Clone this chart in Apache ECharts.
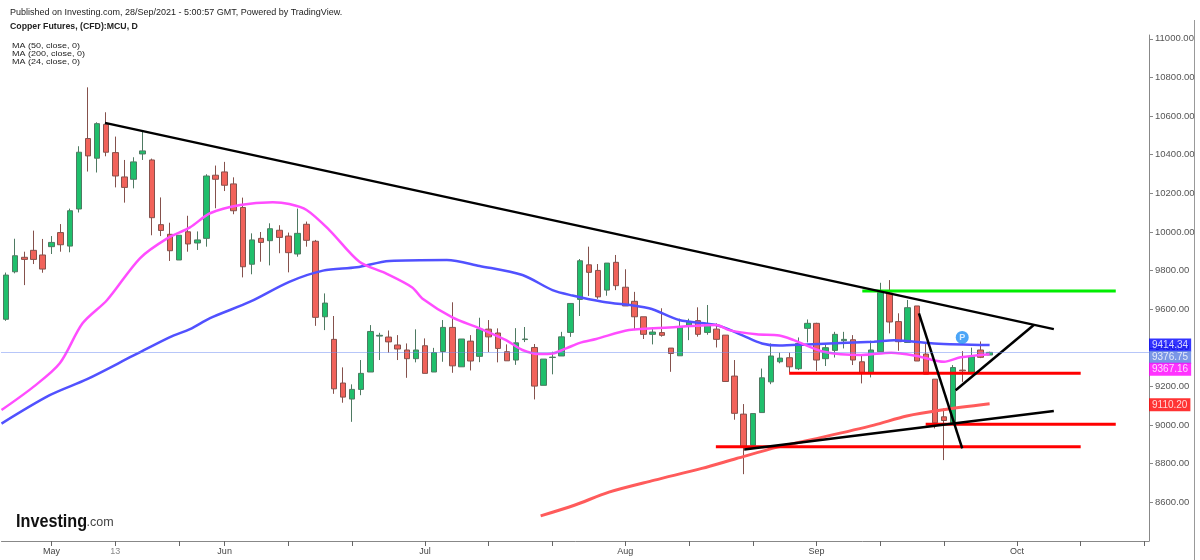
<!DOCTYPE html>
<html>
<head>
<meta charset="utf-8">
<script src="https://cdn.jsdelivr.net/npm/echarts@6/dist/echarts.min.js"></script>
<style>
  html, body { margin: 0; padding: 0; background: #fff; }
  #chart { width: 1200px; height: 560px; }
</style>
</head>
<body>
<div id="chart"></div>
<script>
// trading days (MM-DD), the last 17 are the empty space to the right
const dates = [
  '04-26','04-27','04-28','04-29','04-30',
  '05-04','05-05','05-06','05-07','05-10','05-11','05-12','05-13','05-14',
  '05-17','05-18','05-19','05-20','05-21','05-24','05-25','05-26','05-27','05-28',
  '06-01','06-02','06-03','06-04','06-07','06-08','06-09','06-10','06-11','06-14',
  '06-15','06-16','06-17','06-18','06-21','06-22','06-23','06-24','06-25','06-28','06-29','06-30',
  '07-01','07-02','07-05','07-06','07-07','07-08','07-09','07-12','07-13','07-14',
  '07-15','07-16','07-19','07-20','07-21','07-22','07-23','07-26','07-27','07-28','07-29','07-30',
  '08-02','08-03','08-04','08-05','08-06','08-09','08-10','08-11','08-12','08-13',
  '08-16','08-17','08-18','08-19','08-20','08-23','08-24','08-25','08-26','08-27','08-31',
  '09-01','09-02','09-03','09-06','09-07','09-08','09-09','09-10','09-13','09-14',
  '09-15','09-16','09-17','09-20','09-21','09-22','09-23','09-24','09-27','09-28',
  '09-29','09-30','10-01','10-04','10-05','10-06','10-07','10-08','10-11','10-12',
  '10-13','10-14','10-15','10-18','10-19','10-20','10-21'
];

// x axis labels and tick marks
const labelDates = ['05-04','05-13','06-01','07-01','08-02','09-01','10-01'];
const labelTexts = ['May','13','Jun','Jul','Aug','Sep','Oct'];
const tickDates = ['05-04','05-13','05-24','06-01','06-10','06-21','07-01','07-12','07-21',
  '08-02','08-11','08-20','09-01','09-10','09-21','10-01','10-12','10-21'];

// legend rows
const maLegend = ['MA (50, close, 0)', 'MA (200, close, 0)', 'MA (24, close, 0)'];

// daily candles
const open = [9548,9794,9869,9905,9881,9924,9997,9927,10119,10484,
  10382,10557,10411,10285,10273,10404,10373,10038,9988,9855,
  10001,9943,9967,10294,10311,10249,10127,9833,9967,9955,
  10009,9979,9886,10040,9952,9561,9444,9218,9135,9185,
  9275,9461,9456,9415,9389,9344,9411,9275,9381,9506,
  9302,9435,9356,9497,9477,9380,9337,9443,9402,9206,
  9350,9358,9480,9651,9830,9801,9699,9843,9714,9641,
  9561,9470,9479,9399,9359,9517,9541,9480,9497,9466,
  9254,9057,8896,9065,9224,9328,9349,9292,9501,9527,
  9344,9387,9437,9442,9328,9268,9380,9683,9536,9428,
  9617,9368,9238,9043,9008,9285,9268,9389,9363];
const close = [9777,9877,9858,9858,9808,9946,9934,10110,10413,10394,
  10561,10413,10290,10231,10363,10420,10074,10008,9903,9983,
  9938,9959,10290,10273,10242,10110,9820,9959,9946,10017,
  9972,9893,9993,9957,9558,9632,9188,9145,9185,9268,
  9485,9465,9431,9394,9344,9389,9268,9376,9506,9307,
  9446,9332,9497,9457,9397,9333,9426,9446,9202,9342,
  9352,9457,9630,9851,9791,9664,9839,9722,9617,9561,
  9470,9482,9465,9371,9506,9536,9470,9522,9444,9226,
  9061,8888,9060,9245,9358,9347,9302,9423,9527,9337,
  9401,9470,9444,9337,9268,9389,9688,9534,9432,9608,
  9332,9264,9012,9024,9298,9281,9354,9351,9376.75];
const low = [9540,9786,9725,9834,9789,9886,9898,9895,10101,10313,
  10308,10392,10231,10152,10226,10373,9983,9979,9850,9855,
  9898,9907,9924,10123,10212,10092,9765,9781,9846,9827,
  9890,9791,9872,9924,9514,9492,9162,9116,9017,9155,
  9275,9337,9375,9337,9245,9325,9268,9275,9328,9271,
  9302,9283,9326,9378,9325,9333,9312,9430,9133,9206,
  9263,9358,9457,9565,9669,9654,9670,9699,9617,9492,
  9446,9418,9458,9276,9359,9440,9458,9468,9402,9226,
  9028,8746,8896,9065,9212,9320,9273,9285,9428,9281,
  9306,9350,9397,9311,9216,9247,9380,9475,9385,9428,
  9332,9264,8983,8819,9008,9224,9268,9347,9363];
const high = [9790,9965,9898,10007,9964,9979,10041,10121,10444,10749,
  10568,10620,10494,10373,10387,10520,10380,10179,10048,9984,
  10084,10003,10299,10344,10363,10283,10178,9993,10000,10045,
  10035,9997,10121,10054,9959,9682,9565,9299,9211,9337,
  9518,9478,9490,9466,9423,9496,9449,9400,9544,9636,
  9446,9466,9556,9544,9501,9418,9502,9508,9420,9342,
  9380,9483,9630,9860,9924,9834,9839,9881,9807,9690,
  9561,9506,9605,9399,9551,9551,9610,9622,9527,9466,
  9337,9109,9060,9293,9423,9375,9375,9454,9547,9530,
  9418,9483,9483,9466,9363,9437,9737,9751,9579,9648,
  9617,9423,9238,9086,9311,9383,9401,9433,9380];

// moving averages: [candle index, value]
const ma50 = [[-0.5,9008],[4.8,9155],[8.9,9238],[13.9,9358],[18,9456],[20.2,9497],[22.4,9554],
  [26.8,9639],[31.1,9742],[34.8,9800],[38.5,9817],[42.1,9850],[48.4,9855],[52,9824],
  [56.7,9777],[60,9699],[62.2,9671],[65.5,9639],[70.6,9605],[73.9,9544],[78,9518],
  [80.8,9466],[83,9423],[84.9,9412],[88,9418],[95.3,9432],[97.5,9440],[101.9,9423],[108,9414.34]];
const ma24 = [[-0.5,9078],[3,9198],[5.9,9320],[8.4,9527],[11.1,9648],[14.7,9864],[17.7,9967],
  [20.2,10024],[22.4,10097],[25.7,10140],[29.3,10154],[31.1,10145],[33,10114],[35.5,10010],
  [38.8,9846],[41.6,9788],[44.6,9713],[45.7,9656],[49,9558],[52,9501],[54.9,9440],[56.7,9389],
  [58.6,9368],[60,9371],[61.5,9397],[63,9426],[64.8,9446],[68.4,9492],[72.8,9506],[78,9518],
  [79.4,9492],[82.4,9470],[84.9,9464],[86.5,9440],[89.8,9380],[93.9,9363],[97.2,9375],
  [100,9358],[103,9328],[104.8,9351],[108,9367.16]];
const ma200 = [[58.7,8530],[62.4,8585],[66.2,8653],[71.2,8715],[76.4,8776],[80.2,8827],
  [84.7,8886],[89.8,8939],[95.3,9000],[98.9,9047],[102.7,9078],[108,9110.2]];

// drawn lines
const blackLines = [
  [[10.86,10565],[115.05,9497]],
  [[81.05,8874],[115.05,9073]],
  [[100.24,9579],[104.99,8879]],
  [[104.27,9181],[112.85,9518]]
];
const greenLevel = [[94.02,9694],[121.85,9694]];
const redLevels = [
  [[85.99,9268],[118.0,9268]],
  [[100.98,9005],[121.85,9005]],
  [[77.94,8888],[118.0,8888]]
];

// price tags on the right scale
const tagValues = [9414.34, 9376.75, 9367.16, 9110.20];
const tagColors = ['#0000ff', '#5a7de0', '#ff00ff', '#ff0000'];
const tagShift = [0, 5, 15, 1];

const lastPrice = 9376.75;
const pinMark = [104.99, 9454];

const candles = open.map((o, i) => [o, close[i], low[i], high[i]]);

const chart = echarts.init(document.getElementById('chart'));

const lineSeries = (data, color, width) => ({
  type: 'line', xAxisIndex: 1, data: data, showSymbol: false, symbol: 'none',
  lineStyle: { color: color, width: width }, silent: true, z: 4
});

const series = [
  {
    type: 'candlestick',
    data: candles,
    barWidth: 6,
    itemStyle: {
      color: '#1fbf6c', color0: '#f1625a',
      borderColor: '#4e7a62', borderColor0: '#85514c', borderWidth: 1
    },
    markLine: {
      silent: true, symbol: ['none', 'none'], label: { show: false },
      lineStyle: { color: '#6f8cf2', type: 'dotted', width: 1 },
      data: [{ yAxis: lastPrice }]
    },
    z: 3
  },
  lineSeries(ma50, '#5151ff', 2.5),
  lineSeries(ma24, '#ff4dff', 2.5),
  lineSeries(ma200, '#ff5b5b', 3),
  lineSeries(greenLevel, '#00ee00', 3)
];
redLevels.forEach(d => series.push(lineSeries(d, '#ff0000', 3)));
blackLines.forEach(d => series.push(lineSeries(d, '#000000', 2.5)));
series.forEach(s => { if (s.type === 'line') s.smooth = s.data.length > 2 ? 0.3 : false; });

series.push({
  type: 'scatter', xAxisIndex: 1, silent: true, z: 6,
  symbolSize: 13, itemStyle: { color: '#1e8ff5' },
  data: [pinMark],
  label: { show: true, position: 'inside', formatter: 'P', color: '#fff',
    fontSize: 9, fontWeight: 'bold', fontFamily: 'Liberation Sans' }
});
series.push({
  type: 'scatter', xAxisIndex: 1, silent: true, z: 10, clip: false,
  symbolSize: 0,
  data: tagValues.map((v, i) => ({
    value: [125.5, v],
    label: { backgroundColor: tagColors[i], offset: [0, tagShift[i]] }
  })),
  label: {
    show: true, position: 'right', distance: 0,
    formatter: p => p.value[1].toFixed(2),
    color: '#fff', fontSize: 10, fontFamily: 'Liberation Sans',
    padding: [2, 3, 1, 3]
  }
});

const titleStyle = (size, weight) => ({
  fontSize: size, fontWeight: weight, color: '#222', fontFamily: 'Liberation Sans'
});

// legend rows are a little squat in the original
const legendText = maLegend.map((t, i) => ({
  type: 'text', x: 12, y: 46 + i * 8.2, scaleY: 0.8,
  style: { text: t, fontSize: 9, fill: '#222', fontFamily: 'Liberation Sans',
    verticalAlign: 'middle' }
}));

chart.setOption({
  animation: false,
  backgroundColor: '#fff',
  title: [
    { text: 'Published on Investing.com, 28/Sep/2021 - 5:00:57 GMT, Powered by TradingView.',
      left: 10, top: 8, padding: 0, textStyle: titleStyle(9, 'normal') },
    { text: 'Copper Futures, (CFD):MCU, D', left: 10, top: 22, padding: 0, textStyle: titleStyle(8.75, 'bold') }
  ],
  graphic: legendText.concat([
    { type: 'text', x: 16, y: 513, scaleX: 0.9,
      style: { text: 'Investing', fontSize: 18, fontWeight: 'bold', fill: '#111',
        fontFamily: 'Liberation Sans' } },
    { type: 'text', x: 86.5, y: 516,
      style: { text: '.com', fontSize: 12.5, fill: '#444', fontFamily: 'Liberation Sans' } },
    { type: 'line', shape: { x1: 1194.5, y1: 20, x2: 1194.5, y2: 560 },
      style: { stroke: '#999', lineWidth: 1 } }
  ]),
  grid: { left: 1.5, right: 51, top: 35, bottom: 19, containLabel: false },
  xAxis: [
    {
      type: 'category', data: dates, boundaryGap: true,
      axisLine: { lineStyle: { color: '#888' } },
      axisTick: { show: true, alignWithLabel: true, length: 5, lineStyle: { color: '#666' },
        interval: (i, v) => tickDates.includes(v) },
      axisLabel: {
        interval: (i, v) => labelDates.includes(v),
        formatter: v => {
          const t = labelTexts[labelDates.indexOf(v)];
          return t === '13' ? '{d|13}' : t;
        },
        rich: { d: { color: '#888', fontSize: 9, fontFamily: 'Liberation Sans' } },
        fontSize: 9, color: '#444', margin: 6, fontFamily: 'Liberation Sans'
      },
      splitLine: { show: false }
    },
    { type: 'value', min: -0.5, max: 125.5, show: false }
  ],
  yAxis: {
    type: 'value', position: 'right', min: 8400, max: 11020, interval: 200,
    axisLine: { show: true, onZero: false, lineStyle: { color: '#888' } },
    axisTick: { show: true, length: 4, lineStyle: { color: '#888' } },
    axisLabel: { formatter: v => v.toFixed(2), fontSize: 9.5, color: '#555',
      margin: 6, showMinLabel: false, showMaxLabel: false, fontFamily: 'Liberation Sans' },
    splitLine: { show: false }
  },
  series: series
});
</script>
</body>
</html>
